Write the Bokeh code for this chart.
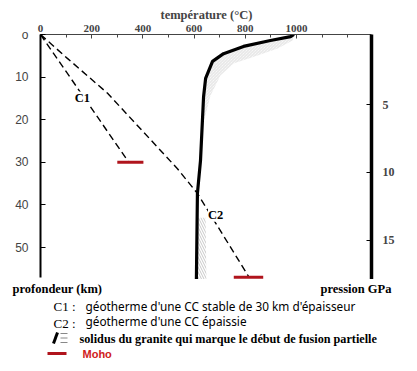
from bokeh.plotting import figure
from bokeh.models import Range1d, LinearAxis, FixedTicker
from bokeh.core.properties import value
from bokeh.embed import file_html
from bokeh.resources import INLINE

# ---------------- data ----------------
temp_major_ticks = [0, 200, 400, 600, 800, 1000]
temp_minor_ticks = [100, 300, 500, 700, 900, 1100, 1200]
depth_ticks = [0, 10, 20, 30, 40, 50]
pressure_ticks = [5, 10, 15]

c1_temp = [0, 345]
c1_depth = [0, 30]
c2_temp = [0, 105, 262, 535, 613, 815]
c2_depth = [0, 5.6, 13.8, 31.5, 37.3, 57]
solidus_temp = [990, 977, 898, 793, 715, 672, 645, 637, 625, 613, 609]
solidus_depth = [0, 0.5, 1.4, 2.8, 4.5, 6.3, 10.3, 14.6, 29.6, 37.3, 57.5]
hatch_upper_temp = [990, 985, 926, 848, 754, 703, 664, 640]
hatch_upper_depth = [0, 1.4, 3.3, 4.9, 6.8, 9.6, 14.3, 20]
hatch_lower_temp = [611, 645, 648, 609]
hatch_lower_depth = [43, 43, 57.5, 57.5]
moho_depth = [30, 57]
moho_temp_start = [300, 755]
moho_temp_end = [402, 870]
curve_labels = ["C1", "C2"]
label_temp = [164, 684]
label_depth = [15, 42.3]

caption_text = ["profondeur (km)", "pression GPa"]
legend_keys = ["C1 :", "C2 :"]
legend_desc = ["géotherme d'une CC stable de 30 km d'épaisseur",
               "géotherme d'une CC épaissie"]
solidus_desc = ["solidus du granite qui marque le début de fusion partielle"]
moho_desc = ["Moho"]

SERIF = "Liberation Serif"
SANS = "Liberation Sans"
RED = "#b0141c"

# ---------------- main chart ----------------
p = figure(frame_width=331, frame_height=245,
           x_range=Range1d(0, 1293), y_range=Range1d(57.5, 0),
           x_axis_location="above", y_axis_location="left",
           output_backend="svg", toolbar_location=None,
           min_border_left=40, min_border_right=46,
           min_border_top=34, min_border_bottom=0,
           title="température (°C)")
p.outline_line_color = None
p.xgrid.visible = False
p.ygrid.visible = False
p.background_fill_color = "white"
p.border_fill_color = "white"

p.title.align = "left"
p.title.offset = 120
p.title.standoff = 0
p.title.text_font = SERIF
p.title.text_font_style = "bold"
p.title.text_font_size = "12.5px"

xa = p.xaxis[0]
xa.ticker = FixedTicker(ticks=temp_major_ticks, minor_ticks=temp_minor_ticks)
xa.major_label_text_font = SERIF
xa.major_label_text_font_style = "bold"
xa.major_label_text_font_size = "11px"
xa.major_label_standoff = 3
xa.major_tick_in = 4
xa.major_tick_out = 0
xa.minor_tick_in = 3
xa.minor_tick_out = 0
xa.axis_line_color = "#444444"
xa.major_tick_line_color = "#444444"
xa.minor_tick_line_color = "#444444"

ya = p.yaxis[0]
ya.ticker = FixedTicker(ticks=depth_ticks)
ya.major_label_overrides = {0: "o"}
ya.major_label_text_font = SANS
ya.major_label_text_font_size = "12px"
ya.major_label_standoff = 12
ya.major_tick_in = 5
ya.major_tick_out = 0
ya.minor_tick_in = 0
ya.minor_tick_out = 0
ya.axis_line_width = 2
ya.bounds = (0, 57)

p.extra_y_ranges = {"p": Range1d(17.87, -0.15)}
ra = LinearAxis(y_range_name="p", ticker=FixedTicker(ticks=pressure_ticks))
ra.major_label_text_font = SERIF
ra.major_label_text_font_style = "bold"
ra.major_label_text_font_size = "12px"
ra.major_label_standoff = 11
ra.major_tick_in = 5
ra.major_tick_out = 0
ra.minor_tick_in = 0
ra.minor_tick_out = 0
ra.axis_line_width = 3.5
p.add_layout(ra, "right")

# hatched zones of the solidus
n_up = sum(1 for d in solidus_depth if d <= 14.6)
up_T = hatch_upper_temp + solidus_temp[:n_up][::-1]
up_D = hatch_upper_depth + solidus_depth[:n_up][::-1]
p.patch(up_T, up_D, fill_alpha=0, line_color=None,
        hatch_pattern="\\", hatch_color="#cfcfcf", hatch_scale=3, hatch_weight=0.6)
p.patch(hatch_lower_temp, hatch_lower_depth, fill_alpha=0, line_color=None,
        hatch_pattern="\\", hatch_color="#b0b0b0", hatch_scale=5, hatch_weight=0.7)

# geotherms
p.line(c1_temp, c1_depth, line_color="black", line_width=1.4, line_dash="7 4")
p.line(c2_temp, c2_depth, line_color="black", line_width=1.4, line_dash="7 4")

# solidus
p.line(solidus_temp, solidus_depth, line_color="black", line_width=3.2)

# Moho
p.segment(x0=moho_temp_start, y0=moho_depth, x1=moho_temp_end, y1=moho_depth,
          line_color=RED, line_width=3)

# curve labels
p.text(x=label_temp, y=label_depth, text=curve_labels,
       text_font=value(SERIF), text_font_style="bold", text_font_size="12.5px",
       text_align="center", text_baseline="middle", background_fill_color="white")

# ---------------- legend / captions (page-pixel coordinates) ----------------
g = figure(frame_width=417, frame_height=88,
           x_range=Range1d(0, 417), y_range=Range1d(367, 279),
           output_backend="svg", toolbar_location=None,
           min_border_left=0, min_border_right=0,
           min_border_top=0, min_border_bottom=0)
g.axis.visible = False
g.xgrid.visible = False
g.ygrid.visible = False
g.outline_line_color = None
g.background_fill_color = "white"
g.border_fill_color = "white"

common = dict(text_baseline="middle", text_align="left")
g.text(x=[12, 320], y=[288, 288], text=caption_text, text_font=value(SERIF),
       text_font_style="bold", text_font_size="12.5px", **common)
g.text(x=[53, 53], y=[306, 323], text=legend_keys, text_font=value(SERIF),
       text_font_size="13px", **common)
g.text(x=[85, 85], y=[305, 320], text=legend_desc, text_font=value("Noto Sans"),
       text_font_size="11.8px", **common)

# solidus key
g.line([57, 53], [332, 343], line_color="black", line_width=3)
g.multi_line([[60, 67], [60, 67], [60, 67]], [[333, 333], [337.5, 337.5], [342, 342]],
             line_color="#888888", line_width=1)
g.text(x=[79], y=[338], text=solidus_desc, text_font=value(SERIF),
       text_font_style="bold", text_font_size="12.2px", **common)

# Moho key
g.line([47, 66], [353, 353], line_color=RED, line_width=3)
g.text(x=[82], y=[353], text=moho_desc, text_font=value(SANS), text_font_style="bold",
       text_font_size="11px", text_color="#d02020", **common)

open("out.html", "w").write(file_html([p, g], INLINE))
